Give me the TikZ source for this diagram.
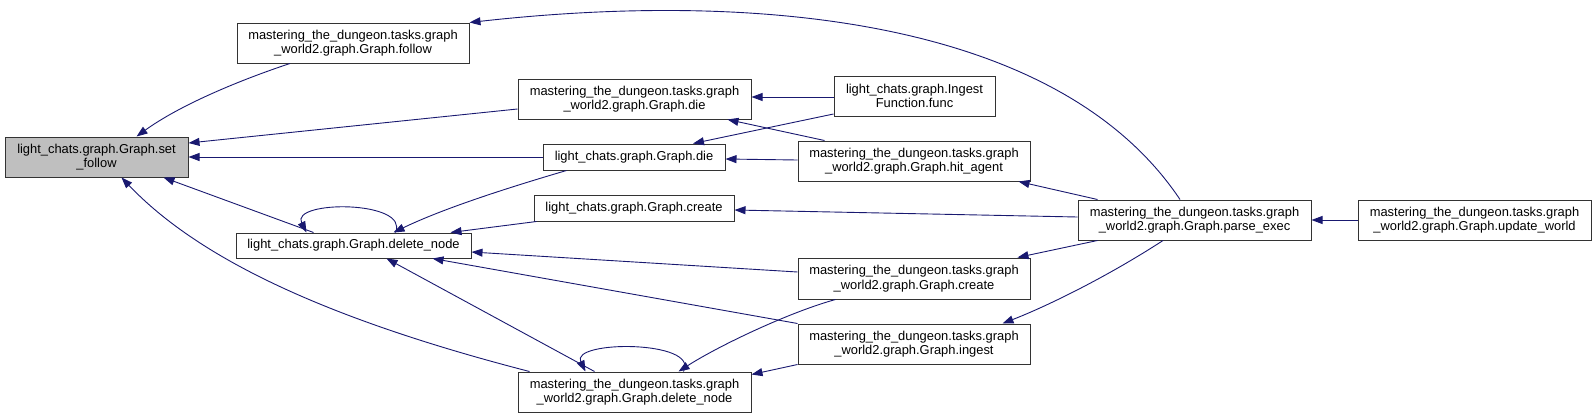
\documentclass[tikz,border=0pt]{standalone}
\usepackage{fontspec}
\setmainfont{Liberation Sans}
\usetikzlibrary{arrows.meta}
\definecolor{edgeblue}{HTML}{191970}
\definecolor{rootgray}{HTML}{BFBFBF}
\newcommand{\boxfont}{\fontsize{12.9}{14.5}\selectfont}

\begin{document}
\begin{tikzpicture}[x=1pt, y=-1pt,
            fn/.style={draw=black!80, line width=1pt, fill=white, inner sep=0pt, align=center,
                font=\boxfont, minimum width=232pt, minimum height=40pt},
            fnone/.style={fn, minimum height=26pt},
            call/.style={draw=edgeblue, line width=0.9pt, -{Triangle[length=11pt,width=8pt]}}]
            \useasboundingbox (0,0) rectangle (1596,418);
            \node[fn, fill=rootgray, minimum width=183pt] (setf) at (96.5,157) {light\_chats.graph.Graph.set\\\_follow};
            \node[fn] (mfollow) at (353,43) {mastering\_the\_dungeon.tasks.graph\\\_world2.graph.Graph.follow};
            \node[fn, minimum width=233pt] (mdie) at (634.5,99) {mastering\_the\_dungeon.tasks.graph\\\_world2.graph.Graph.die};
            \node[fnone, minimum width=182pt] (ldie) at (634,157) {light\_chats.graph.Graph.die};
            \node[fnone, minimum width=200pt] (lcreate) at (634,208) {light\_chats.graph.Graph.create};
            \node[fnone, minimum width=235pt, minimum height=25pt] (ldel) at (353.5,245.5) {light\_chats.graph.Graph.delete\_node};
            \node[fn, minimum width=233pt] (mdel) at (634.5,392) {mastering\_the\_dungeon.tasks.graph\\\_world2.graph.Graph.delete\_node};
            \node[fn, minimum width=161pt] (ifunc) at (914.5,96) {light\_chats.graph.Ingest\\Function.func};
            \node[fn] (mhit) at (914,161) {mastering\_the\_dungeon.tasks.graph\\\_world2.graph.Graph.hit\_agent};
            \node[fn, minimum height=41pt] (mcreate) at (914,278.5) {mastering\_the\_dungeon.tasks.graph\\\_world2.graph.Graph.create};
            \node[fn] (mingest) at (914,344) {mastering\_the\_dungeon.tasks.graph\\\_world2.graph.Graph.ingest};
            \node[fn, minimum width=233pt] (mparse) at (1194.5,220) {mastering\_the\_dungeon.tasks.graph\\\_world2.graph.Graph.parse\_exec};
            \node[fn, minimum width=233pt] (mupdate) at (1474.5,220) {mastering\_the\_dungeon.tasks.graph\\\_world2.graph.Graph.update\_world};
            \draw[call] ([xshift=-63pt]mfollow.south) .. controls (240,80) and (180,105) .. ([xshift=40pt]setf.north);
            \draw[call] ([yshift=-10pt]mdie.west) -- ([yshift=14pt]setf.east);
            \draw[call] (ldie.west) -- (setf.east);
            \draw[call] ([xshift=-40pt]ldel.north) -- ([xshift=67pt]setf.south);
            \draw[call] ([xshift=12pt]mdel.north west) .. controls (330,320) and (200,260) .. ([xshift=25pt]setf.south);
            \draw[call] ([yshift=-1pt]ifunc.west) -- ([yshift=2pt]mdie.east);
            \draw[call] ([yshift=-18pt]ifunc.west) -- ([xshift=59pt]ldie.north);
            \draw[call] ([xshift=27pt]mhit.north west) -- ([xshift=93pt]mdie.south);
            \draw[call] ([yshift=1pt]mhit.west) -- ([yshift=-2pt]ldie.east);
            \draw[call] ([xshift=24pt]ldie.south west) .. controls (500,190) and (440,210) .. ([xshift=-78pt]ldel.north east);
            \draw[call] ([xshift=3pt]lcreate.south west) -- ([xshift=-21pt]ldel.north east);
            \draw[call] ([yshift=6.5pt]mcreate.west) -- ([yshift=-6.5pt]ldel.east);
            \draw[call] (mingest.north west) -- ([xshift=79pt]ldel.south);
            \draw[call] ([xshift=-40pt]mdel.north) -- ([xshift=33pt]ldel.south);
            \draw[call] ([xshift=42pt]ldel.north) .. controls (410,200) and (290,200) .. ([xshift=-47pt]ldel.north);
            \draw[call] ([xshift=49pt]mdel.north) .. controls (700,340) and (570,340) .. ([xshift=-49pt]mdel.north);
            \draw[call] ([xshift=38pt]mcreate.south west) .. controls (790,312) and (720,345) .. ([xshift=44pt]mdel.north);
            \draw[call] (mingest.south west) -- ([yshift=-3pt]mdel.north east);
            \draw[call] ([xshift=-14.5pt]mparse.north) .. controls (1060,20) and (760,-10) .. (mfollow.north east);
            \draw[call] ([xshift=20pt]mparse.north west) -- ([xshift=-12pt]mhit.south east);
            \draw[call] ([yshift=3pt]mparse.west) -- ([yshift=-2pt]lcreate.east);
            \draw[call] ([xshift=20pt]mparse.south west) -- ([xshift=-13pt]mcreate.north east);
            \draw[call] ([xshift=-31.5pt]mparse.south) .. controls (1110,275) and (1050,305) .. ([xshift=-28pt]mingest.north east);
            \draw[call] (mupdate.west) -- (mparse.east);
        \end{tikzpicture}
\end{document}
